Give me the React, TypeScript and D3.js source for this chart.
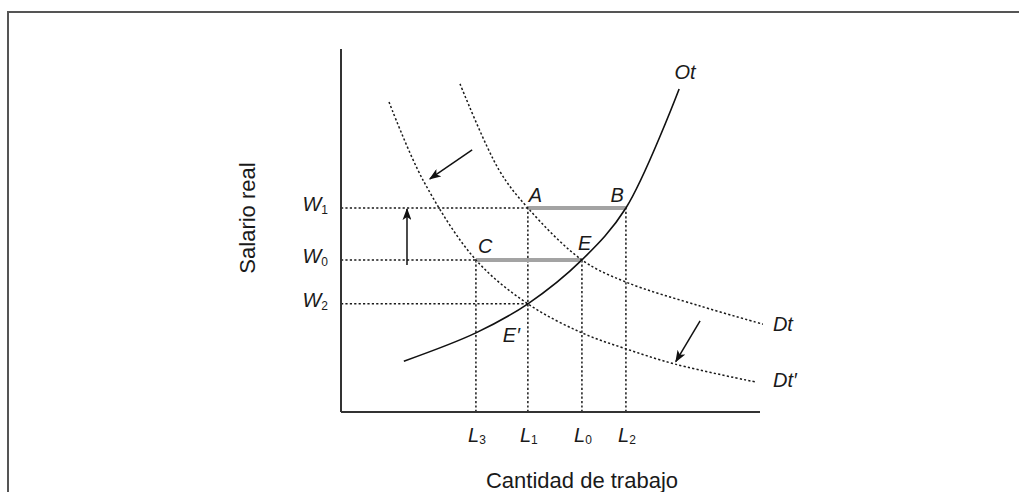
import React from "react";
import * as d3 from "d3";

// ---- data (chart units: labour quantity 0..100, real wage 0..100) ----
const labourNames = ["3", "1", "0", "2"];
const labourValues = [32.2, 44.6, 57.5, 68.0];
const wageNames = ["1", "0", "2"];
const wageValues = [56.2, 41.9, 29.8];

// supply curve Ot
const otX = [15.0, 32.2, 44.6, 57.5, 68.0, 80.7];
const otY = [14.0, 21.8, 29.8, 41.9, 56.2, 89.0];
// demand curve Dt
const dtX = [28.4, 37.7, 44.6, 57.5, 68.0, 85.7, 100.7];
const dtY = [90.4, 66.7, 56.2, 41.9, 35.8, 29.2, 24.2];
// shifted demand curve Dt'
const dt2X = [11.46, 19.57, 32.2, 44.6, 57.5, 68.0, 79.7, 98.8];
const dt2Y = [85.4, 63.9, 41.9, 29.8, 21.8, 17.4, 13.2, 8.3];

// shift arrows [x1, y1, x2, y2]
const arrowWage = [15.75, 40.5, 15.75, 55.9];
const arrowShift1 = [31.3, 72.2, 21.2, 64.2];
const arrowShift2 = [85.7, 25.1, 79.9, 13.9];

const W = 1019;
const H = 492;
const FONT = "'Liberation Sans', Arial, Helvetica, sans-serif";

export default function App() {
  const x = d3.scaleLinear().domain([0, 100]).range([341, 760]);
  const y = d3.scaleLinear().domain([0, 100]).range([412, 49]);

  const line = d3
    .line<[number, number]>()
    .x((d) => x(d[0]))
    .y((d) => y(d[1]))
    .curve(d3.curveCatmullRom.alpha(0.5));

  const zip = (a: number[], b: number[]) => a.map((v, i) => [v, b[i]] as [number, number]);

  const [L3, L1, L0, L2] = labourValues;
  const [W1, W0, W2] = wageValues;

  const dotted = { stroke: "#1a1a1a", strokeWidth: 1.5, strokeDasharray: "2.2,2.2", fill: "none" };

  const guides: [number, number, number, number][] = [
    [0, W1, L1, W1],
    [0, W0, L3, W0],
    [0, W2, L1, W2],
    [L3, 0, L3, W0],
    [L1, 0, L1, W1],
    [L0, 0, L0, W0],
    [L2, 0, L2, W1],
  ];

  const arrows = [arrowWage, arrowShift1, arrowShift2];

  const ptLabel = (
    text: string,
    px: number,
    py: number,
    dx: number,
    dy: number,
    anchor: string = "start",
    prime = false
  ) => (
    <text
      x={x(px) + dx}
      y={y(py) + dy}
      fontFamily={FONT}
      fontStyle="italic"
      fontSize={20}
      textAnchor={anchor}
      fill="#1a1a1a"
    >
      {text}
      {prime ? "\u2032" : ""}
    </text>
  );

  const otEnd = otX.length - 1;
  const dtEnd = dtX.length - 1;
  const dt2End = dt2X.length - 1;

  return (
    <div style={{ position: "absolute", left: 0, top: 0 }}>
      <svg width={W} height={H} style={{ display: "block", background: "#fff" }}>
        <defs>
          <marker
            id="ah"
            markerUnits="userSpaceOnUse"
            markerWidth={12}
            markerHeight={9}
            refX={11}
            refY={4.5}
            orient="auto"
          >
            <path d="M0,0 L12,4.5 L0,9 L3,4.5 z" fill="#111" />
          </marker>
        </defs>

        {/* frame */}
        <rect x={8} y={12} width={1200} height={700} fill="none" stroke="#555" strokeWidth={2} />

        {/* guides */}
        {guides.map((g, i) => (
          <line key={i} x1={x(g[0])} y1={y(g[1])} x2={x(g[2])} y2={y(g[3])} {...dotted} />
        ))}

        {/* gray gaps */}
        <line x1={x(L1)} y1={y(W1)} x2={x(L2)} y2={y(W1)} stroke="#a3a3a3" strokeWidth={4} />
        <line x1={x(L3)} y1={y(W0)} x2={x(L0)} y2={y(W0)} stroke="#a3a3a3" strokeWidth={4} />

        {/* curves */}
        <path d={line(zip(dtX, dtY)) || ""} {...dotted} />
        <path d={line(zip(dt2X, dt2Y)) || ""} {...dotted} />
        <path d={line(zip(otX, otY)) || ""} fill="none" stroke="#111" strokeWidth={1.6} />

        {/* axes */}
        <line x1={x(0)} y1={y(100)} x2={x(0)} y2={y(0)} stroke="#333" strokeWidth={2} />
        <line x1={x(0)} y1={y(0)} x2={x(100)} y2={y(0)} stroke="#333" strokeWidth={2} />

        {/* arrows */}
        {arrows.map((a, i) => (
          <line
            key={i}
            x1={x(a[0])}
            y1={y(a[1])}
            x2={x(a[2])}
            y2={y(a[3])}
            stroke="#111"
            strokeWidth={1.5}
            markerEnd="url(#ah)"
          />
        ))}

        {/* wage tick labels */}
        {wageValues.map((v, i) => (
          <text
            key={i}
            x={328}
            y={y(v) + 3}
            fontFamily={FONT}
            fontSize={20}
            textAnchor="end"
            fill="#1a1a1a"
          >
            <tspan fontStyle="italic">W</tspan>
            <tspan fontSize={12} dy={3}>
              {wageNames[i]}
            </tspan>
          </text>
        ))}

        {/* labour tick labels */}
        {labourValues.map((v, i) => (
          <text
            key={i}
            x={x(v) + 1}
            y={442}
            fontFamily={FONT}
            fontSize={20}
            textAnchor="middle"
            fill="#1a1a1a"
          >
            <tspan fontStyle="italic">L</tspan>
            <tspan fontSize={12} dy={2}>
              {labourNames[i]}
            </tspan>
          </text>
        ))}

        {/* point labels */}
        {ptLabel("A", L1, W1, 1, -6)}
        {ptLabel("B", L2, W1, -2, -6, "end")}
        {ptLabel("C", L3, W0, 2, -7)}
        {ptLabel("E", L0, W0, -4, -10)}
        {ptLabel("E", L1, W2, -25, 38, "start", true)}

        {/* curve labels */}
        {ptLabel("Ot", otX[otEnd], otY[otEnd], 6, -10, "middle")}
        {ptLabel("Dt", dtX[dtEnd], dtY[dtEnd], 10, 7)}
        {ptLabel("Dt", dt2X[dt2End], dt2Y[dt2End], 18, 5, "start", true)}

        {/* axis titles */}
        <text
          transform="translate(255,218) rotate(-90)"
          fontFamily={FONT}
          fontSize={22}
          textAnchor="middle"
          fill="#1a1a1a"
        >
          Salario real
        </text>
        <text x={582} y={488} fontFamily={FONT} fontSize={22} textAnchor="middle" fill="#1a1a1a">
          Cantidad de trabajo
        </text>
      </svg>
    </div>
  );
}
